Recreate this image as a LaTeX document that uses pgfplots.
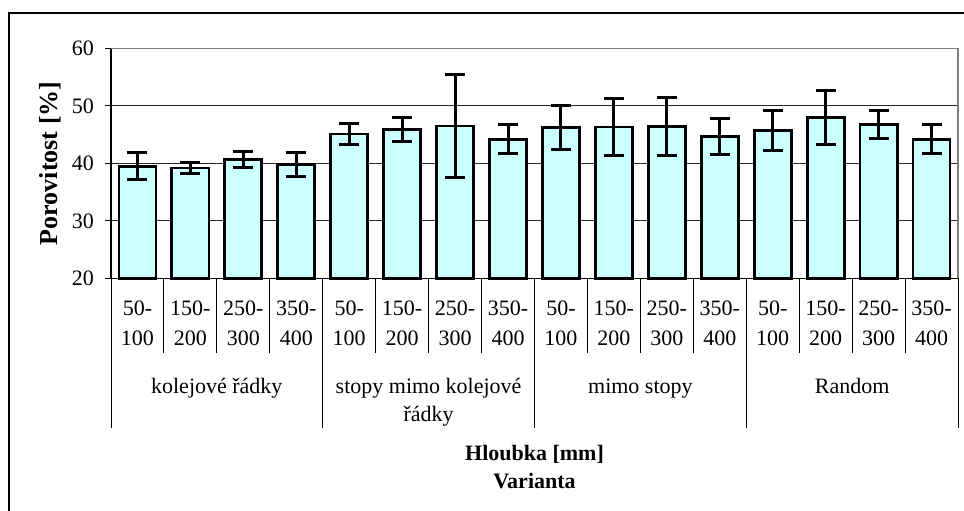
\documentclass[border=0pt]{standalone}
\usepackage{fontspec}
\setmainfont{Liberation Serif}
\usepackage{pgfplots}
\pgfplotsset{compat=1.18}
\definecolor{barfill}{RGB}{204,255,255}

\pgfplotstableread{
x  y     e
1  39.5  2.4
2  39.2  1.0
3  40.6  1.4
4  39.8  2.1
5  45.1  1.8
6  45.9  2.1
7  46.5  9.0
8  44.2  2.5
9  46.2  3.8
10 46.3  4.9
11 46.4  5.0
12 44.7  3.1
13 45.7  3.4
14 48.0  4.7
15 46.8  2.4
16 44.2  2.5
}\porovitost

\begin{document}
\begin{tikzpicture}[font=\fontsize{11}{13}\selectfont]
\useasboundingbox (0,0) rectangle (482pt,-255pt);
% outer frame (cut at right and bottom edge like the reference)
\draw[line width=1pt] (4.5pt,-270pt) -- (4.5pt,-6.3pt) -- (495pt,-6.3pt);

\begin{axis}[
    at={(55.5pt,-139.15pt)}, anchor=south west,
    scale only axis,
    width=423.5pt, height=115pt,
    xmin=0.5, xmax=16.5,
    ymin=20, ymax=60,
    ytick={20,30,40,50,60},
    ymajorgrids,
    major grid style={black!85, line width=0.5pt},
    axis x line*=bottom, axis y line*=left,
    axis line style={black, line width=0.7pt},
    tick align=outside,
    major tick length=3pt,
    tick style={black, line width=0.5pt},
    xtick={0.5,1.5,...,16.5},
    x tick label as interval,
    xticklabels={{50-\\100},{150-\\200},{250-\\300},{350-\\400},
                 {50-\\100},{150-\\200},{250-\\300},{350-\\400},
                 {50-\\100},{150-\\200},{250-\\300},{350-\\400},
                 {50-\\100},{150-\\200},{250-\\300},{350-\\400}},
    xticklabel style={align=center, anchor=north, yshift=-4.5pt,
                      font=\fontsize{11}{15}\selectfont},
    extra x ticks={0.5,1.5,...,16.5},
    extra x tick labels={},
    extra x tick style={major tick length=37.35pt, grid=none},
    minor xtick={0.5,4.5,8.5,12.5,16.5},
    minor tick length=74.85pt,
    yticklabel style={font=\fontsize{11}{13}\selectfont, xshift=-2pt},
    /pgf/number format/assume math mode=true,
    clip=false,
]
\addplot[ybar, bar width=0.7, fill=barfill, draw=black, line width=1.4pt,
    error bars/.cd, y dir=both, y explicit,
    error bar style={line width=1.5pt, black},
    error mark options={rotate=90, line width=1.5pt, mark size=5pt, black}]
    table[x=x, y=y, y error=e] {\porovitost};
\draw[gray, line width=0.7pt] (rel axis cs:0,1) -- (rel axis cs:1,1) -- (rel axis cs:1,0);
\end{axis}

\node[rotate=90, font=\bfseries\fontsize{13}{15}\selectfont] at (25pt,-81.65pt) {Porovitost [\%]};
\node[anchor=base] at (108.4pt,-196.6pt) {kolejové řádky};
\node[anchor=base] at (214.3pt,-196.6pt) {stopy mimo kolejové};
\node[anchor=base] at (214.3pt,-210.8pt) {řádky};
\node[anchor=base] at (320.2pt,-196.6pt) {mimo stopy};
\node[anchor=base] at (426.1pt,-196.6pt) {Random};
\node[anchor=base, font=\bfseries\fontsize{11}{13}\selectfont] at (267.25pt,-230.4pt) {Hloubka [mm]};
\node[anchor=base, font=\bfseries\fontsize{11}{13}\selectfont] at (267.25pt,-244.2pt) {Varianta};
\end{tikzpicture}
\end{document}
